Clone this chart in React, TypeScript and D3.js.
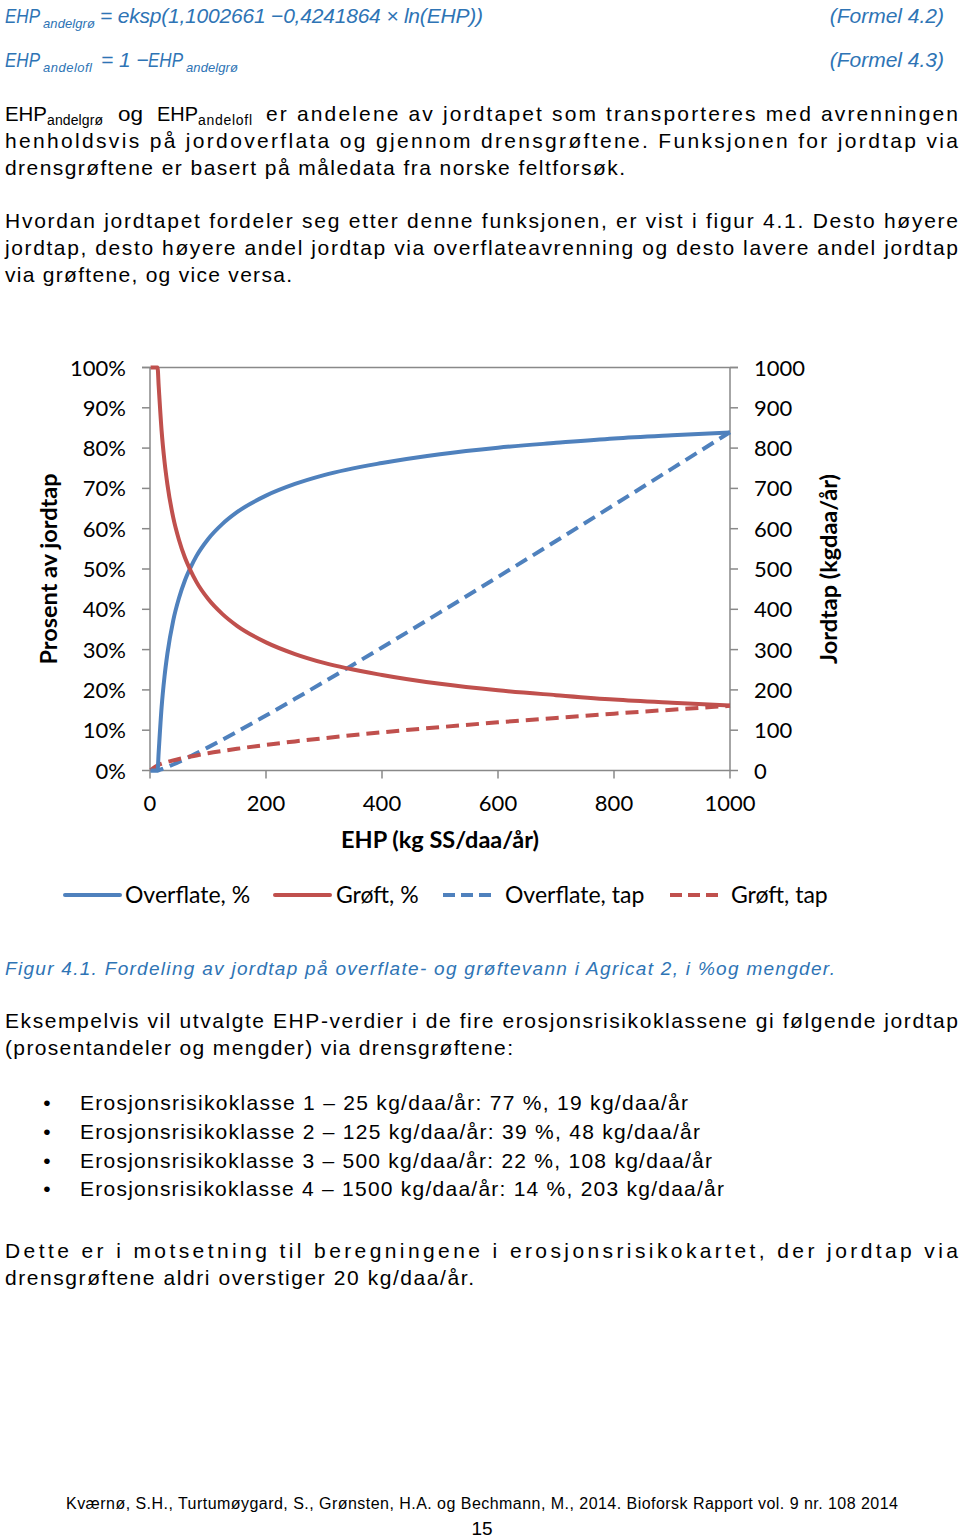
import React from "react";
import * as d3 from "d3";

// ---- Data ----
const ehp = [1, 5, 10, 13, 15, 20, 25, 30, 40, 50, 60, 70, 80, 100, 125, 150, 200, 250, 300, 400, 500, 600, 700, 800, 900, 1000];
const overflatePct = [0, 0, 0, 0, 4.7, 15.7, 23.3, 29.0, 37.2, 42.8, 47.1, 50.4, 53.2, 57.4, 61.2, 64.1, 68.2, 71.1, 73.3, 76.3, 78.5, 80.1, 81.3, 82.4, 83.2, 83.9];
const groftPct = [100, 100, 100, 100, 95.3, 84.3, 76.7, 71.0, 62.8, 57.2, 52.9, 49.6, 46.8, 42.6, 38.8, 35.9, 31.8, 28.9, 26.7, 23.7, 21.5, 19.9, 18.7, 17.6, 16.8, 16.1];
const overflateTap = [0, 0, 0, 0, 0.7, 3.1, 5.8, 8.7, 14.9, 21.4, 28.3, 35.3, 42.6, 57.4, 76.6, 96.2, 136.5, 177.8, 219.8, 305.3, 392.4, 480.5, 569.5, 659, 749.1, 839.5];
const groftTap = [1, 5, 10, 13, 14.3, 16.9, 19.2, 21.3, 25.1, 28.6, 31.7, 34.7, 37.4, 42.6, 48.4, 53.8, 63.5, 72.2, 80.2, 94.7, 107.6, 119.5, 130.5, 141, 150.9, 160.5];

const xTicks = [0, 200, 400, 600, 800, 1000];
const pctTicks = [0, 10, 20, 30, 40, 50, 60, 70, 80, 90, 100];
const tapTicks = [0, 100, 200, 300, 400, 500, 600, 700, 800, 900, 1000];

const seriesNames = ["Overflate, %", "Grøft, %", "Overflate, tap", "Grøft, tap"];

const BLUE = "#4F81BD";
const RED = "#C0504D";
const AXIS = "#898989";
const DOCBLUE = "#2E74B5";
const CHART_FONT = "Lato, 'Open Sans', sans-serif";
const DOC_FONT = "'Liberation Sans Narrow', 'Liberation Sans', Arial, sans-serif";

type LineProps = { x: number; y: number; w?: number; text: string; size?: number; color?: string; italic?: boolean; anchor?: string; adjust?: string };
const L = ({ x, y, w, text, size = 21, color = "#000", italic = false, anchor = "start", adjust = "spacing" }: LineProps) => (
  <text
    x={x}
    y={y}
    fontFamily={DOC_FONT}
    fontSize={size}
    fill={color}
    fontStyle={italic ? "italic" : "normal"}
    textAnchor={anchor}
    {...(w ? { textLength: w, lengthAdjust: adjust } : {})}
  >
    {text}
  </text>
);

export default function App() {
  const x = d3.scaleLinear().domain([0, 1000]).range([150, 730]);
  const yPct = d3.scaleLinear().domain([0, 100]).range([770.5, 367.5]);
  const yTap = d3.scaleLinear().domain([0, 1000]).range([770.5, 367.5]);

  const linePct = d3
    .line<number>()
    .x((_, i) => x(ehp[i]))
    .y((d) => yPct(d))
    .curve(d3.curveMonotoneX);
  const lineTap = d3
    .line<number>()
    .x((_, i) => x(ehp[i]))
    .y((d) => yTap(d))
    .curve(d3.curveMonotoneX);

  const dash = "13 7";
  const legendItems = [
    { name: seriesNames[0], color: BLUE, dashed: false, x1: 65, x2: 120, tx: 125 },
    { name: seriesNames[1], color: RED, dashed: false, x1: 275, x2: 330, tx: 336 },
    { name: seriesNames[2], color: BLUE, dashed: true, x1: 443, x2: 492, tx: 505 },
    { name: seriesNames[3], color: RED, dashed: true, x1: 670, x2: 718, tx: 731 },
  ];

  const bullets = [
    "Erosjonsrisikoklasse 1 – 25 kg/daa/år: 77 %, 19 kg/daa/år",
    "Erosjonsrisikoklasse 2 – 125 kg/daa/år: 39 %, 48 kg/daa/år",
    "Erosjonsrisikoklasse 3 – 500 kg/daa/år: 22 %, 108 kg/daa/år",
    "Erosjonsrisikoklasse 4 – 1500 kg/daa/år: 14 %, 203 kg/daa/år",
  ];
  const bulletEnds = [688, 700, 712, 724];
  const bulletY = [1110, 1139, 1168, 1196];

  return (
    <svg width={960} height={1539} style={{ position: "absolute", left: 0, top: 0, background: "#fff" }}>
      <rect x={0} y={0} width={960} height={1539} fill="#fff" />

      {/* Formulas */}
      <L x={5} y={23} text="EHP" italic color={DOCBLUE} w={35} adjust="spacingAndGlyphs" />
      <L x={43} y={28} text="andelgrø" italic color={DOCBLUE} size={13} w={52} />
      <L x={100} y={23} text="= eksp(1,1002661 −0,4241864 × ln(EHP))" italic color={DOCBLUE} w={383} />
      <L x={944} y={23} text="(Formel 4.2)" italic color={DOCBLUE} anchor="end" />
      <L x={5} y={67} text="EHP" italic color={DOCBLUE} w={35} adjust="spacingAndGlyphs" />
      <L x={43} y={72} text="andelofl" italic color={DOCBLUE} size={13} w={49} />
      <L x={101} y={67} text="= 1 −" italic color={DOCBLUE} />
      <L x={148} y={67} text="EHP" italic color={DOCBLUE} w={35} adjust="spacingAndGlyphs" />
      <L x={186} y={72} text="andelgrø" italic color={DOCBLUE} size={13} w={52} />
      <L x={944} y={67} text="(Formel 4.3)" italic color={DOCBLUE} anchor="end" />

      {/* Paragraph 1 */}
      <L x={5} y={121} text="EHP" w={42} adjust="spacingAndGlyphs" />
      <L x={47} y={125} text="andelgrø" size={14} w={56} />
      <L x={118} y={121} text="og" w={25} adjust="spacingAndGlyphs" />
      <L x={157} y={121} text="EHP" w={41} adjust="spacingAndGlyphs" />
      <L x={198} y={125} text="andelofl" size={14} w={54} />
      <L x={266} y={121} text="er andelene av jordtapet som transporteres med avrenningen" w={692} />
      <L x={5} y={148} text="henholdsvis på jordoverflata og gjennom drensgrøftene. Funksjonen for jordtap via" w={953} />
      <L x={5} y={175} text="drensgrøftene er basert på måledata fra norske feltforsøk." w={620} />

      {/* Paragraph 2 */}
      <L x={5} y={228} text="Hvordan jordtapet fordeler seg etter denne funksjonen, er vist i figur 4.1. Desto høyere" w={953} />
      <L x={5} y={255} text="jordtap, desto høyere andel jordtap via overflateavrenning og desto lavere andel jordtap" w={953} />
      <L x={5} y={282} text="via grøftene, og vice versa." w={287} />

      {/* Chart */}
      <g fontFamily={CHART_FONT}>
        {/* top border */}
        <line x1={142} x2={738} y1={yPct(100)} y2={yPct(100)} stroke={AXIS} strokeWidth={1.5} />
        {/* left axis */}
        <line x1={x(0)} x2={x(0)} y1={yPct(100)} y2={yPct(0)} stroke={AXIS} strokeWidth={1.5} />
        {pctTicks.map((t) => (
          <g key={"p" + t}>
            <line x1={142} x2={x(0)} y1={yPct(t)} y2={yPct(t)} stroke={AXIS} strokeWidth={1.5} />
            <text x={126} y={yPct(t) + 8} textAnchor="end" fontSize={22} fill="#000">
              {t + "%"}
            </text>
          </g>
        ))}
        {/* right axis */}
        <line x1={x(1000)} x2={x(1000)} y1={yTap(1000)} y2={yTap(0)} stroke={AXIS} strokeWidth={1.5} />
        {tapTicks.map((t) => (
          <g key={"t" + t}>
            <line x1={x(1000)} x2={738} y1={yTap(t)} y2={yTap(t)} stroke={AXIS} strokeWidth={1.5} />
            <text x={754} y={yTap(t) + 8} textAnchor="start" fontSize={22} fill="#000">
              {t}
            </text>
          </g>
        ))}
        {/* bottom axis */}
        <line x1={x(0)} x2={x(1000)} y1={yPct(0)} y2={yPct(0)} stroke={AXIS} strokeWidth={1.5} />
        {xTicks.map((t) => (
          <g key={"x" + t}>
            <line x1={x(t)} x2={x(t)} y1={yPct(0)} y2={yPct(0) + 8} stroke={AXIS} strokeWidth={1.5} />
            <text x={x(t)} y={811} textAnchor="middle" fontSize={22} fill="#000">
              {t}
            </text>
          </g>
        ))}
        <text x={440} y={848} textAnchor="middle" fontSize={23.5} fontWeight="bold" fill="#000">
          EHP (kg SS/daa/år)
        </text>
        <text transform="translate(57,569) rotate(-90)" textAnchor="middle" fontSize={23.5} fontWeight="bold" fill="#000">
          Prosent av jordtap
        </text>
        <text transform="translate(837,569) rotate(-90)" textAnchor="middle" fontSize={23.5} fontWeight="bold" fill="#000">
          Jordtap (kgdaa/år)
        </text>

        {/* series */}
        <path d={lineTap(overflateTap) || ""} fill="none" stroke={BLUE} strokeWidth={4} strokeDasharray={dash} />
        <path d={lineTap(groftTap) || ""} fill="none" stroke={RED} strokeWidth={4} strokeDasharray={dash} />
        <path d={linePct(overflatePct) || ""} fill="none" stroke={BLUE} strokeWidth={4} />
        <path d={linePct(groftPct) || ""} fill="none" stroke={RED} strokeWidth={4} />

        {/* legend */}
        {legendItems.map((it) => (
          <g key={it.name}>
            <line
              x1={it.x1}
              x2={it.x2}
              y1={895}
              y2={895}
              stroke={it.color}
              strokeWidth={4}
              strokeLinecap={it.dashed ? "butt" : "round"}
              strokeDasharray={it.dashed ? "12 6" : undefined}
            />
            <text x={it.tx} y={903} fontSize={23} fill="#000">
              {it.name}
            </text>
          </g>
        ))}
      </g>

      {/* Caption */}
      <L x={5} y={975} text="Figur 4.1. Fordeling av jordtap på overflate- og grøftevann i Agricat 2, i %og mengder." italic color={DOCBLUE} w={830} size={19} />

      {/* Paragraph 3 */}
      <L x={5} y={1028} text="Eksempelvis vil utvalgte EHP-verdier i de fire erosjonsrisikoklassene gi følgende jordtap" w={953} />
      <L x={5} y={1055} text="(prosentandeler og mengder) via drensgrøftene:" w={508} />

      {bullets.map((b, i) => (
        <g key={b}>
          <text x={47} y={bulletY[i]} fontFamily={DOC_FONT} fontSize={21} textAnchor="middle">•</text>
          <L x={80} y={bulletY[i]} text={b} w={bulletEnds[i] - 80} />
        </g>
      ))}

      {/* Paragraph 4 */}
      <L x={5} y={1258} text="Dette er i motsetning til beregningene i erosjonsrisikokartet, der jordtap via" w={953} />
      <L x={5} y={1285} text="drensgrøftene aldri overstiger 20 kg/daa/år." w={469} />

      {/* Footer */}
      <L x={66} y={1509} text="Kværnø, S.H., Turtumøygard, S., Grønsten, H.A. og Bechmann, M., 2014. Bioforsk Rapport vol. 9 nr. 108 2014" size={16} w={832} />
      <L x={482} y={1535} text="15" size={19} anchor="middle" />
    </svg>
  );
}
